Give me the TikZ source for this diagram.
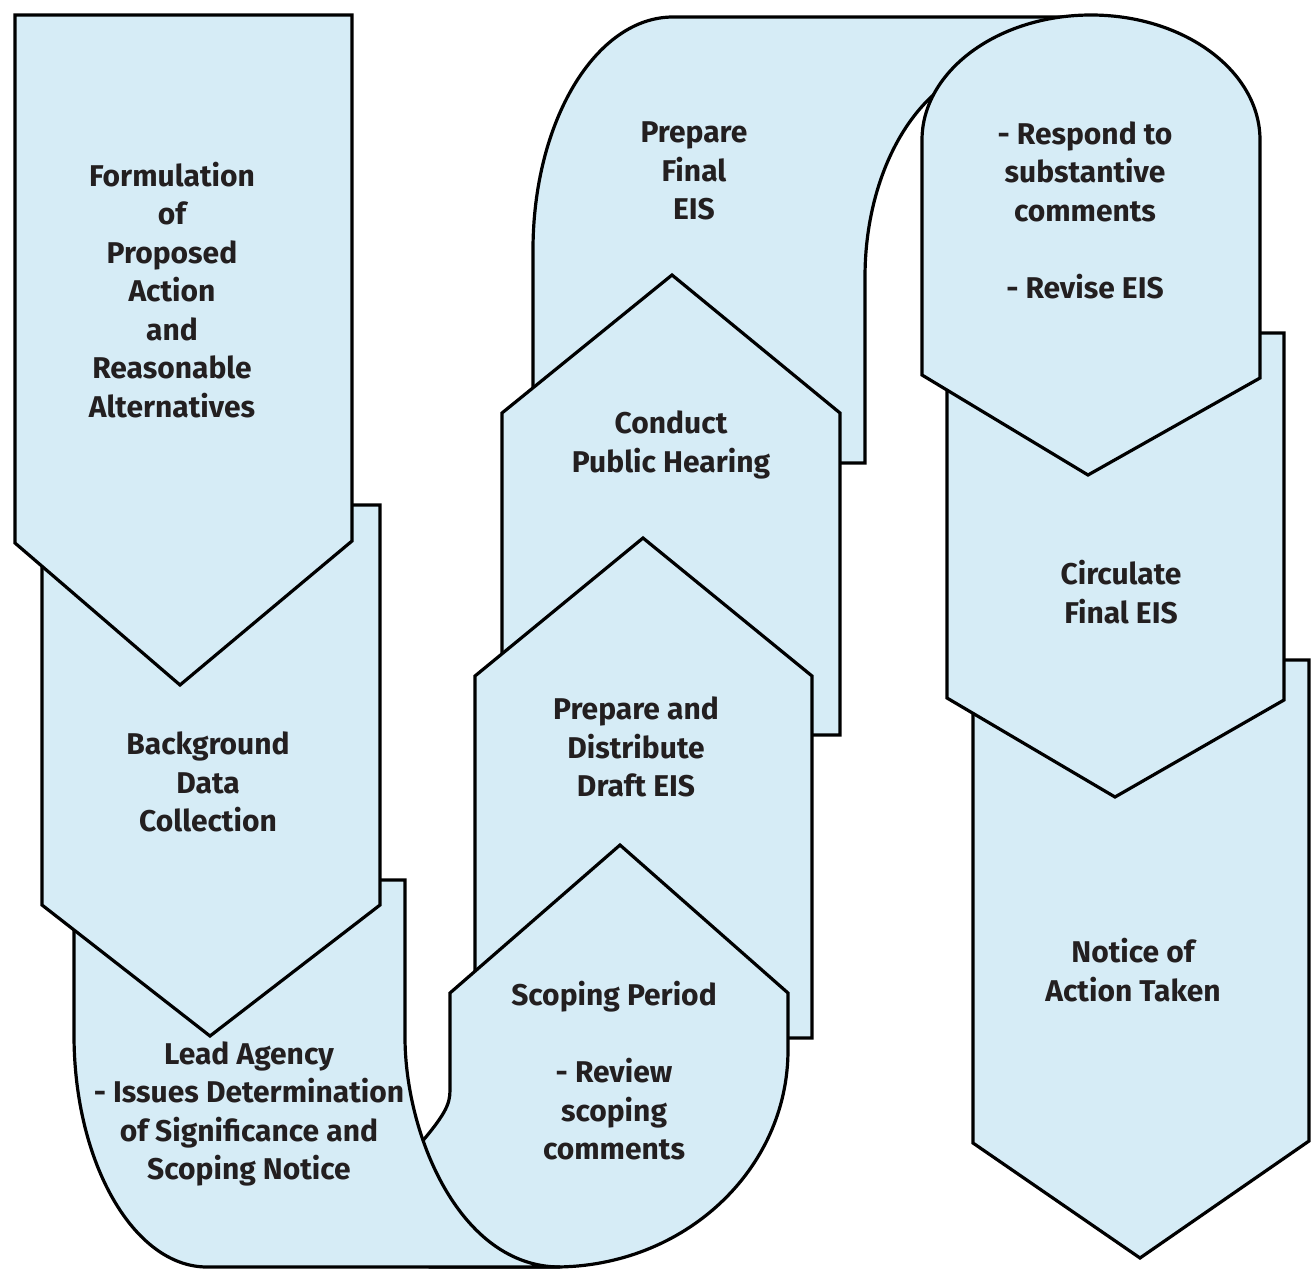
\documentclass[tikz,border=0pt]{standalone}
\usepackage{fontspec}
\setmainfont{Fira Sans}
\usepackage{tikz}
\usepackage{xcolor}
\definecolor{eisblue}{RGB}{214, 236, 246}
\definecolor{eistext}{RGB}{35, 31, 32}
\usetikzlibrary{calc,positioning}

\tikzset{
    stage/.style={fill=eisblue, draw=black, line width=3.2pt, line join=miter},
    stagetext/.style={align=center, text=eistext, font=\bfseries\fontsize{30}{38.5}\selectfont}
}

\begin{document}
\begin{tikzpicture}[x=1pt, y=-1pt]
    \useasboundingbox (0,0) rectangle (1312,1271);

    % Prepare final EIS (bend over the top)
    \draw[stage] (533,463) -- (533,250)
        .. controls (533,121) and (596,17) .. (673,17) -- (1077,17) -- (1077,65) -- (1005,65)
        .. controls (928,65) and (865,160) .. (865,277) -- (865,463) -- cycle;

    % Column of upward stages
    \draw[stage] (672,275) -- (840,413) -- (840,735) -- (502,735) -- (502,413) -- cycle;
    \draw[stage] (643,538) -- (812,676) -- (812,1038) -- (475,1038) -- (475,676) -- cycle;
    \draw[stage] (620,845) -- (788,993) -- (788,1050)
        .. controls (788,1170) and (684,1267) .. (555,1267) -- (430,1267) -- (415,1150)
        .. controls (445,1115) and (450,1105) .. (450,1090) -- (450,993) -- cycle;

    % Lead agency (bend along the bottom)
    \draw[stage] (74,880) -- (405,880) -- (405,1037)
        .. controls (405,1135) and (460,1267) .. (560,1267) -- (207,1267)
        .. controls (134,1267) and (74,1163) .. (74,1035) -- cycle;

    % Column of downward stages
    \draw[stage] (42,505) -- (380,505) -- (380,905) -- (210,1036) -- (42,905) -- cycle;
    \draw[stage] (15,15) -- (352,15) -- (352,541) -- (180,685) -- (15,543) -- cycle;

    % Right column
    \draw[stage] (973,660) -- (1309,660) -- (1309,1141) -- (1140,1258) -- (973,1143) -- cycle;
    \draw[stage] (947,333) -- (1284,333) -- (1284,700) -- (1115,797) -- (947,698) -- cycle;
    \draw[stage] (922,375) -- (922,140)
        .. controls (922,71) and (998,15) .. (1091,15)
        .. controls (1184,15) and (1260,71) .. (1260,140) -- (1260,378) -- (1088,475) -- cycle;

    % Labels
    \node[stagetext] (formtxt) at (172,290) {Formulation\\of\\Proposed\\Action\\and\\Reasonable\\Alternatives};
    \node[stagetext] (backtxt) at (208,782) {Background\\Data\\Collection};
    \node[stagetext] (leadtxt) at (249,1114) {Lead Agency\\- Issues Determination\\of Significance and\\Scoping Notice};
    \node[stagetext] (scopetxt) at (614,1071) {Scoping Period\\[38.5pt]- Review\\scoping\\comments};
    \node[stagetext] (drafttxt) at (636,747) {Prepare and\\Distribute\\Draft EIS};
    \node[stagetext] (hearingtxt) at (671,445) {Conduct\\Public Hearing};
    \node[stagetext] (finaltxt) at (694,171) {Prepare\\Final\\EIS};
    \node[stagetext] (respondtxt) at (1085,210) {- Respond to\\substantive\\comments\\[38.5pt]- Revise EIS};
    \node[stagetext] (circtxt) at (1121,592) {Circulate\\Final EIS};
    \node[stagetext] (noticetxt) at (1133,970) {Notice of\\Action Taken};
\end{tikzpicture}
\end{document}
